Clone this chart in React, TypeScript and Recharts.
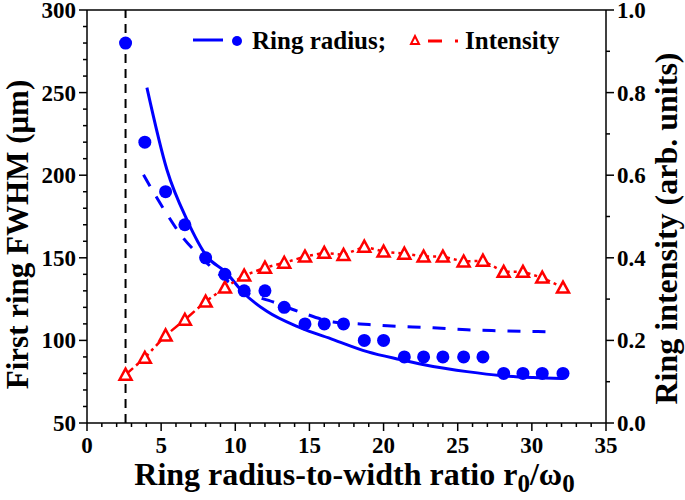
import { ComposedChart, Line, XAxis, YAxis, ReferenceLine, Legend } from "recharts";

// r0/w0 values of the measured points
const ratio = [2.6, 3.9, 5.3, 6.6, 8.0, 9.3, 10.6, 12.0, 13.3, 14.7, 16.0, 17.3, 18.7, 20.0, 21.4, 22.7, 24.0, 25.4, 26.7, 28.1, 29.4, 30.7, 32.1];
const ringRadius = [280, 220, 190, 170, 150, 140, 130, 130, 120, 110, 110, 110, 100, 100, 90, 90, 90, 90, 90, 80, 80, 80, 80];
const intensity = [0.117, 0.158, 0.212, 0.25, 0.294, 0.328, 0.357, 0.376, 0.388, 0.403, 0.412, 0.407, 0.427, 0.415, 0.41, 0.403, 0.403, 0.391, 0.393, 0.366, 0.366, 0.352, 0.328];

// solid fit curve
const solidFitX = [4.04, 5.39, 6.74, 8.09, 9.39, 10.53, 12.13, 14.37, 16.6, 18.89, 21.11, 23.34, 25.63, 27.86, 30.08, 32.1];
const solidFitY = [253, 203.3, 173, 150.8, 141, 129, 117.6, 107.7, 100.5, 93.2, 88.4, 84.2, 81.1, 78.7, 77.5, 76.9];

// dashed fit curve
const dashFitX = [3.81, 5.28, 6.4, 7.64, 10.53, 12.55, 14.37, 16.6, 18.42, 20.24, 23.34, 25.63, 27.86, 31.4];
const dashFitY = [200.2, 178, 163, 150.8, 129.7, 123.3, 117.2, 111.2, 110, 108.8, 107.6, 106.4, 105.8, 105.2];

const cutoffRatio = 2.6;

const xTicks = [0, 1, 2, 3, 4, 5, 6, 7, 8, 9, 10, 11, 12, 13, 14, 15, 16, 17, 18, 19, 20, 21, 22, 23, 24, 25, 26, 27, 28, 29, 30, 31, 32, 33, 34, 35];
const leftTicks = [50, 60, 70, 80, 90, 100, 110, 120, 130, 140, 150, 160, 170, 180, 190, 200, 210, 220, 230, 240, 250, 260, 270, 280, 290, 300];
const rightTicks = [0, 0.1, 0.2, 0.3, 0.4, 0.5, 0.6, 0.7, 0.8, 0.9, 1.0];

const BLUE = "#0000ff";
const RED = "#ff0000";
const FONT = '"Liberation Serif", "Times New Roman", serif';

const pointData = ratio.map((x, i) => ({ x, radius: ringRadius[i], intensity: intensity[i] }));
const solidData = solidFitX.map((x, i) => ({ x, fit: solidFitY[i] }));
const dashData = dashFitX.map((x, i) => ({ x, fit: dashFitY[i] }));

const XTick = ({ x, y, payload }: any) => {
    const major = payload.value % 5 === 0;
    return (
        <g>
            <line x1={x} x2={x} y1={y} y2={y + (major ? 8 : 4)} stroke="#000" strokeWidth={1.5} />
            {major && (
                <text x={x} y={y + 30} textAnchor="middle" fontFamily={FONT} fontWeight="bold" fontSize={23} fill="#000">
                    {payload.value}
                </text>
            )}
        </g>
    );
};

const LeftTick = ({ x, y, payload }: any) => {
    const major = payload.value % 50 === 0;
    return (
        <g>
            <line x1={x} x2={x - (major ? 8 : 4)} y1={y} y2={y} stroke="#000" strokeWidth={1.5} />
            {major && (
                <text x={x - 11} y={y + 8} textAnchor="end" fontFamily={FONT} fontWeight="bold" fontSize={23} fill="#000">
                    {payload.value}
                </text>
            )}
        </g>
    );
};

const RightTick = ({ x, y, payload }: any) => {
    const major = Math.round(payload.value * 10) % 2 === 0;
    return (
        <g>
            <line x1={x} x2={x + (major ? 8 : 4)} y1={y} y2={y} stroke="#000" strokeWidth={1.5} />
            {major && (
                <text x={x + 11} y={y + 8} textAnchor="start" fontFamily={FONT} fontWeight="bold" fontSize={23} fill="#000">
                    {payload.value.toFixed(1)}
                </text>
            )}
        </g>
    );
};

const Triangle = ({ cx, cy }: any) => {
    if (cx == null || cy == null) return null;
    return (
        <polygon
            points={`${cx},${cy - 6} ${cx - 6},${cy + 5} ${cx + 6},${cy + 5}`}
            fill="#fff"
            stroke={RED}
            strokeWidth={2.5}
        />
    );
};

const LegendBox = () => (
    <svg width={390} height={34} style={{ display: "block" }}>
        <line x1={3} x2={33} y1={18} y2={18} stroke={BLUE} strokeWidth={3} />
        <circle cx={47} cy={19} r={5} fill={BLUE} />
        <text x={62} y={27} fontFamily={FONT} fontWeight="bold" fontSize={25} fill="#000">Ring radius;</text>
        <polygon points="225,14 221,22 229,22" fill="#fff" stroke={RED} strokeWidth={2} />
        <line x1={238} x2={252} y1={19} y2={19} stroke={RED} strokeWidth={3} />
        <line x1={265} x2={268} y1={19} y2={19} stroke={RED} strokeWidth={3} />
        <text x={275} y={27} fontFamily={FONT} fontWeight="bold" fontSize={25} fill="#000">Intensity</text>
    </svg>
);

export default function App() {
    return (
        <div style={{ position: "absolute", left: 0, top: 0, width: 685, height: 500, background: "#fff" }}>
            <ComposedChart width={685} height={500} margin={{ top: 10, right: 0, bottom: 0, left: 0 }}>
                <XAxis
                    type="number"
                    dataKey="x"
                    domain={[0, 35]}
                    ticks={xTicks}
                    interval={0}
                    height={77}
                    tickSize={0}
                    tickMargin={0}
                    tickLine={false}
                    tick={<XTick />}
                    axisLine={{ stroke: "#000", strokeWidth: 1.5 }}
                    allowDuplicatedCategory={false}
                    label={(props: any) => {
                        const vb = props.viewBox;
                        return (
                            <text x={vb.x + vb.width / 2 + 8} y={vb.y + 62} textAnchor="middle" fontFamily={FONT} fontWeight="bold" fontSize={32} fill="#000">
                                <tspan>Ring radius-to-width ratio r</tspan>
                                <tspan dy={7} fontSize={25}>0</tspan>
                                <tspan dy={-7}>/ω</tspan>
                                <tspan dy={7} fontSize={25}>0</tspan>
                            </text>
                        );
                    }}
                />
                <YAxis
                    yAxisId="left"
                    orientation="left"
                    domain={[50, 300]}
                    ticks={leftTicks}
                    interval={0}
                    width={87}
                    tickSize={0}
                    tickMargin={0}
                    tickLine={false}
                    tick={<LeftTick />}
                    axisLine={{ stroke: "#000", strokeWidth: 1.5 }}
                    label={(props: any) => {
                        const vb = props.viewBox;
                        const cx = 17;
                        const cy = vb.y + vb.height / 2 + 18;
                        return (
                            <text x={cx} y={cy} transform={`rotate(-90, ${cx}, ${cy})`} textAnchor="middle" dominantBaseline="central" fontFamily={FONT} fontWeight="bold" fontSize={31} fill="#000">
                                First ring FWHM (μm)
                            </text>
                        );
                    }}
                />
                <YAxis
                    yAxisId="right"
                    orientation="right"
                    domain={[0, 1]}
                    ticks={rightTicks}
                    interval={0}
                    width={79}
                    tickSize={0}
                    tickMargin={0}
                    tickLine={false}
                    tick={<RightTick />}
                    axisLine={{ stroke: "#000", strokeWidth: 1.5 }}
                    label={(props: any) => {
                        const vb = props.viewBox;
                        const cx = 666;
                        const cy = vb.y + vb.height / 2 + 12;
                        return (
                            <text x={cx} y={cy} transform={`rotate(-90, ${cx}, ${cy})`} textAnchor="middle" dominantBaseline="central" fontFamily={FONT} fontWeight="bold" fontSize={32} fill="#000">
                                Ring intensity (arb. units)
                            </text>
                        );
                    }}
                />
                <ReferenceLine yAxisId="left" y={300} stroke="#000" strokeWidth={1.5} />
                <ReferenceLine yAxisId="left" x={cutoffRatio} stroke="#000" strokeWidth={2} strokeDasharray="9 6" />
                <Legend
                    layout="horizontal"
                    verticalAlign="middle"
                    align="center"
                    content={() => <LegendBox />}
                    wrapperStyle={{ position: "absolute", top: 22, left: 190, width: 390, height: 34 }}
                />
                <Line
                    yAxisId="left"
                    data={solidData}
                    dataKey="fit"
                    type="monotone"
                    stroke={BLUE}
                    strokeWidth={3}
                    dot={false}
                    isAnimationActive={false}
                />
                <Line
                    yAxisId="left"
                    data={dashData}
                    dataKey="fit"
                    type="monotone"
                    stroke={BLUE}
                    strokeWidth={3}
                    strokeDasharray="13 12"
                    dot={false}
                    isAnimationActive={false}
                />
                <Line
                    yAxisId="right"
                    data={pointData}
                    dataKey="intensity"
                    type="linear"
                    stroke={RED}
                    strokeWidth={2.5}
                    strokeDasharray="10 4 3 4"
                    dot={<Triangle />}
                    isAnimationActive={false}
                />
                <Line
                    yAxisId="left"
                    data={pointData}
                    dataKey="radius"
                    type="linear"
                    stroke="none"
                    strokeWidth={0}
                    dot={{ r: 6.5, fill: BLUE, stroke: "none" }}
                    isAnimationActive={false}
                />
            </ComposedChart>
        </div>
    );
}
